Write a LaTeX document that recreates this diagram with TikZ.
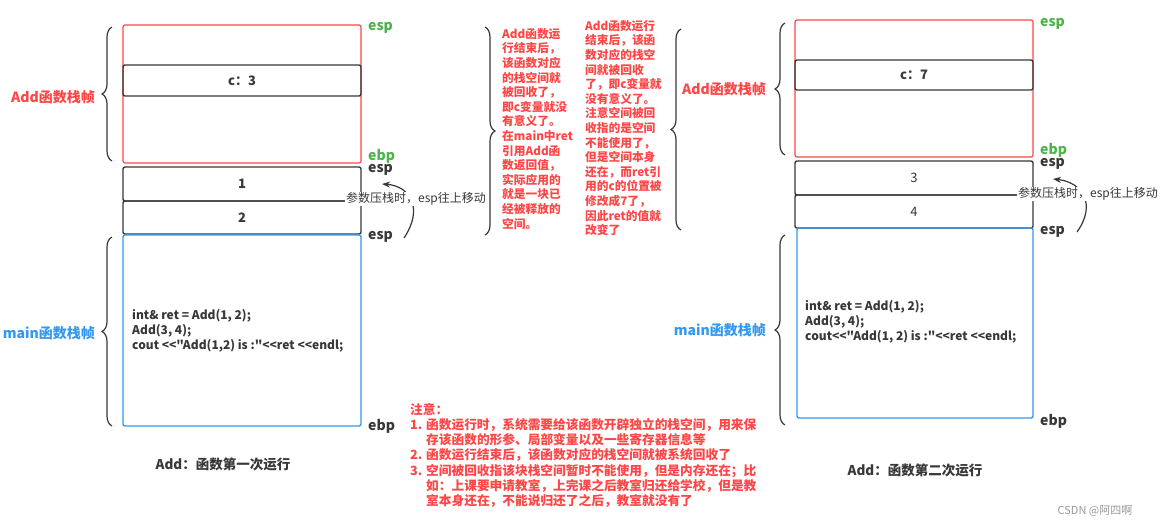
\documentclass[tikz,border=0pt]{standalone}
\usepackage{fontspec}
\setmainfont{Noto Sans CJK SC}[Ligatures=TeXOff]
\usetikzlibrary{decorations.pathreplacing,arrows.meta}
\definecolor{myred}{HTML}{FF4646}
\definecolor{mygreen}{HTML}{4DB34D}
\definecolor{myblue}{HTML}{3399F0}
\definecolor{dark}{HTML}{383838}
\definecolor{wm}{HTML}{9A9A9A}
\begin{document}
\begin{tikzpicture}[x=1pt,y=-1pt,
  frame/.style={draw=myred, line width=1.2pt, rounded corners=2pt, minimum width=238pt, inner sep=0pt},
  cell/.style={draw=dark, line width=1.4pt, rounded corners=2pt, minimum width=238pt, inner sep=0pt, text=dark, font=\bfseries\fontsize{13}{15}\selectfont},
  cellr/.style={cell, font=\fontsize{13}{15}\selectfont},
  mainbox/.style={draw=myblue, line width=1.4pt, rounded corners=2pt, inner sep=0pt},
  reg/.style={anchor=west, inner sep=0pt, text=dark, font=\bfseries\fontsize{14}{16}\selectfont},
  regg/.style={reg, text=mygreen},
  brc/.style={decorate, decoration={brace, amplitude=10pt}, draw=dark, line width=1.2pt},
  flbl/.style={anchor=east, inner sep=0pt, font=\bfseries\fontsize{14}{16}\selectfont},
  code/.style={anchor=west, align=left, inner sep=0pt, text=dark, font=\bfseries\fontsize{12}{14.7}\selectfont},
  note/.style={anchor=north west, align=left, inner sep=0pt, text=myred, font=\bfseries\fontsize{11.7}{14.6}\selectfont},
  arr/.style={-{Stealth[length=8pt,width=6pt]}, draw=dark, line width=1.2pt},
  alab/.style={fill=white, inner sep=1pt, text=dark, font=\fontsize{12}{14}\selectfont},
  captxt/.style={text=dark, font=\bfseries\fontsize{13.5}{15}\selectfont}
]
\useasboundingbox (0,0) rectangle (1160,528);
\fill[white] (0,0) rectangle (1160,528);

% ---------- left diagram ----------
\node[frame, minimum height=138pt] (lred) at (242,94) {};
\node[cell, minimum height=31pt] (lc) at (242,80.5) {c：3};
\node[cell, minimum height=34pt] (l1) at (242,184) {1};
\node[cell, minimum height=33pt] (l2) at (242,217.5) {2};
\node[mainbox, minimum width=238pt, minimum height=191pt] (lmain) at (242,330.5) {};
\node[code] (lcode) at (132,331) {int\& ret = Add(1, 2);\\Add(3, 4);\\cout <<"Add(1,2) is :"<<ret <<endl;};

\draw[brc] (112,161) -- (112,27);
\draw[brc] (112,426) -- (112,237);
\node[flbl, text=myred] (laddl) at (95,97) {Add函数栈帧};
\node[flbl, text=myblue] (lmainl) at (95,333) {main函数栈帧};

\node[regg] (le1) at (368,28) {esp};
\node[regg] (lb1) at (368,156) {ebp};
\node[reg] (le2) at (368,170) {esp};
\node[reg] (le3) at (368,237) {esp};
\node[reg] (lb2) at (368,426) {ebp};

\coordinate (la0) at (404,238);
\coordinate (la1) at (382,184);
\draw[arr] (la0) .. controls (424,208) and (410,186) .. (la1);
\node[alab] (lal) at (416,199) {参数压栈时，esp往上移动};

\node[captxt] (lcap) at (223,464) {Add：函数第一次运行};

% ---------- middle ----------
\draw[brc] (485,27) -- (485,235);
\node[note] (t1) at (502,28) {Add函数运\\行结束后，\\该函数对应\\的栈空间就\\被回收了，\\即c变量就没\\有意义了。\\在main中ret\\引用Add函\\数返回值，\\实际应用的\\就是一块已\\经被释放的\\空间。};
\node[note] (t2) at (585,20) {Add函数运行\\结束后，该函\\数对应的栈空\\间就被回收\\了，即c变量就\\没有意义了。\\注意空间被回\\收指的是空间\\不能使用了，\\但是空间本身\\还在，而ret引\\用的c的位置被\\修改成7了，\\因此ret的值就\\改变了};
\draw[brc] (681,230) -- (681,29);

% ---------- right diagram ----------
\node[frame, minimum height=137pt] (rred) at (914,88.5) {};
\node[cell, minimum height=30pt] (rc) at (914,75) {c：7};
\node[cellr, minimum height=34pt] (r3) at (914,178) {3};
\node[cellr, minimum height=33pt] (r4) at (914,211.5) {4};
\node[mainbox, minimum width=236pt, minimum height=190pt] (rmain) at (915,323) {};
\node[code] (rcode) at (805,322) {int\& ret = Add(1, 2);\\Add(3, 4);\\cout<<"Add(1, 2) is :"<<ret <<endl;};

\draw[brc] (785,155) -- (785,23);
\draw[brc] (785,425) -- (785,235);
\node[flbl, text=myred] (raddl) at (766,89) {Add函数栈帧};
\node[flbl, text=myblue] (rmainl) at (766,330) {main函数栈帧};

\node[regg] (re1) at (1040,24) {esp};
\node[regg] (rb1) at (1040,150) {ebp};
\node[reg] (re2) at (1040,164) {esp};
\node[reg] (re3) at (1040,232) {esp};
\node[reg] (rb2) at (1040,421) {ebp};

\coordinate (ra0) at (1077,232);
\coordinate (ra1) at (1053,179);
\draw[arr] (ra0) .. controls (1097,204) and (1082,182) .. (ra1);
\node[alab] (ral) at (1088,194) {参数压栈时，esp往上移动};

\node[captxt] (rcap) at (915,470) {Add：函数第二次运行};

% ---------- notes ----------
\node[anchor=north west, align=left, inner sep=0pt, text=myred, font=\bfseries\fontsize{12.7}{15.2}\selectfont] (notes) at (410,403)
{注意：\\
\makebox[16pt][l]{1.}函数运行时，系统需要给该函数开辟独立的栈空间，用来保\\
\hspace*{16pt}存该函数的形参、局部变量以及一些寄存器信息等\\
\makebox[16pt][l]{2.}函数运行结束后，该函数对应的栈空间就被系统回收了\\
\makebox[16pt][l]{3.}空间被回收指该块栈空间暂时不能使用，但是内存还在；比\\
\hspace*{16pt}如：上课要申请教室，上完课之后教室归还给学校，但是教\\
\hspace*{16pt}室本身还在，不能说归还了之后，教室就没有了};

\node[text=wm, inner sep=0pt, font=\fontsize{11}{13}\selectfont] (wmark) at (1095,511) {CSDN @阿四啊};
\end{tikzpicture}
\end{document}
